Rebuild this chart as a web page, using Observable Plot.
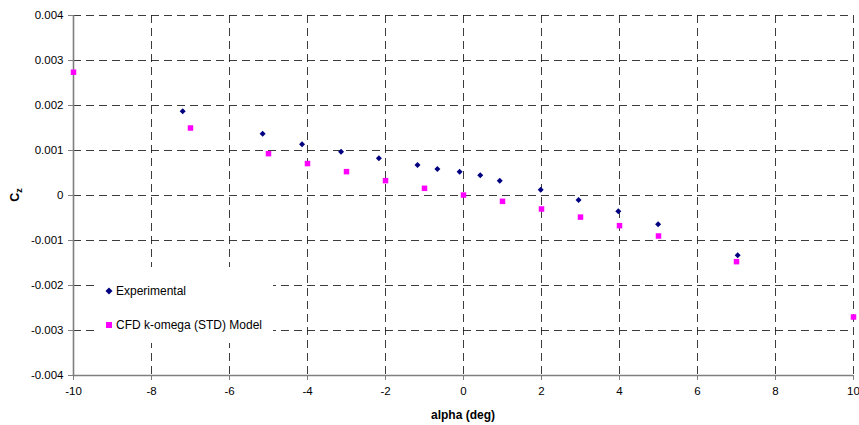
<!DOCTYPE html>
<html>
<head>
<meta charset="utf-8">
<script src="https://cdn.jsdelivr.net/npm/d3@7"></script>
<script src="https://cdn.jsdelivr.net/npm/@observablehq/plot@0.6"></script>
<style>
  html, body { margin: 0; padding: 0; background: #fff; }
  #wrap { position: relative; width: 859px; height: 425px; font-family: "Liberation Sans", Arial, sans-serif; }
  #legend { position: absolute; left: 97px; top: 267px; width: 176px; height: 76px; background: #fff; font-size: 12px; color: #000; }
  #legend .item { position: absolute; left: 8px; display: flex; align-items: center; white-space: nowrap; }
  #legend svg { margin-right: 3px; }
</style>
</head>
<body>
<div id="wrap"></div>
<script>
// Data
const expAlpha = [-7.2, -5.15, -4.14, -3.14, -2.17, -1.18, -0.67, -0.1, 0.43, 0.93, 1.98, 2.95, 3.97, 4.99, 7.03];
const expCz    = [0.00187, 0.00137, 0.00114, 0.00097, 0.00083, 0.00068, 0.00059, 0.00053, 0.00045, 0.00033, 0.00013, -0.0001, -0.00035, -0.00064, -0.00133];
const cfdAlpha = [-10, -7, -5, -4, -3, -2, -1, 0, 1, 2, 3, 4, 5, 7, 10];
const cfdCz    = [0.00274, 0.0015, 0.00093, 0.00071, 0.00053, 0.00033, 0.00016, 0.00001, -0.00013, -0.0003, -0.00048, -0.00067, -0.0009, -0.00147, -0.0027];
const xTicks = [-10, -8, -6, -4, -2, 0, 2, 4, 6, 8, 10];
const yTicks = [-0.004, -0.003, -0.002, -0.001, 0, 0.001, 0.002, 0.003, 0.004];
const seriesNames = ["Experimental", "CFD k-omega (STD) Model"];
const seriesColors = ["#000080", "#ff00ff"];

const expData = expAlpha.map((a, i) => ({alpha: a, cz: expCz[i]}));
const cfdData = cfdAlpha.map((a, i) => ({alpha: a, cz: cfdCz[i]}));

const fmtX = d => String(d);
const fmtY = d => d === 0 ? "0" : d.toFixed(3);
const gridStyle = {stroke: "#1a1a1a", strokeOpacity: 0.85, strokeWidth: 1, strokeDasharray: "8,5"};

const chart = Plot.plot({
  width: 859,
  height: 425,
  marginLeft: 73,
  marginRight: 6,
  marginTop: 15,
  marginBottom: 50,
  style: {fontFamily: "'Liberation Sans', Arial, sans-serif", fontSize: "11.5px", color: "#000", background: "#fff"},
  x: {domain: [-10, 10], label: null},
  y: {domain: [-0.004, 0.004], label: null},
  marks: [
    Plot.gridX(xTicks.slice(1), gridStyle),
    Plot.gridY(yTicks.slice(1), gridStyle),
    Plot.axisX(xTicks, {tickFormat: fmtX, tickSize: 5, tickPadding: 6, stroke: "#7f7f7f", fill: "#000", label: null}),
    Plot.axisY(yTicks, {tickFormat: fmtY, tickSize: 5, tickPadding: 5, stroke: "#7f7f7f", fill: "#000", label: null}),
    Plot.ruleX([xTicks[0]], {stroke: "#7f7f7f", strokeWidth: 1.6}),
    Plot.ruleY([yTicks[0]], {stroke: "#7f7f7f", strokeWidth: 1.6}),
    Plot.dot(expData, {x: "alpha", y: "cz", symbol: "diamond2", r: 2.7, fill: seriesColors[0], stroke: "none"}),
    Plot.dot(cfdData, {x: "alpha", y: "cz", symbol: "square", r: 3.1, fill: seriesColors[1], stroke: "none"})
  ]
});

const wrap = document.getElementById("wrap");
wrap.appendChild(chart);

const svg = d3.select(chart);
// y-axis title Cz with subscript
const yt = svg.append("text")
  .attr("transform", "translate(19,195) rotate(-90)")
  .attr("text-anchor", "middle")
  .attr("font-weight", "bold")
  .attr("font-size", "12.5px")
  .attr("fill", "#000");
yt.append("tspan").text("C");
yt.append("tspan").attr("font-size", "9px").attr("dy", "3").text("z");
// x-axis title
svg.append("text")
  .attr("x", 463).attr("y", 419)
  .attr("text-anchor", "middle")
  .attr("font-weight", "bold")
  .attr("font-size", "12px")
  .attr("fill", "#000")
  .text("alpha (deg)");

// Legend overlay
const legend = document.createElement("div");
legend.id = "legend";
const sym = [
  '<svg width="8" height="8"><path d="M4,0.5L7.5,4L4,7.5L0.5,4Z" fill="' + seriesColors[0] + '"/></svg>',
  '<svg width="8" height="8"><rect x="1" y="1" width="6" height="6" fill="' + seriesColors[1] + '"/></svg>'
];
const tops = [17, 51];
seriesNames.forEach((n, i) => {
  const it = document.createElement("div");
  it.className = "item";
  it.style.top = tops[i] + "px";
  it.innerHTML = sym[i] + "<span>" + n + "</span>";
  legend.appendChild(it);
});
wrap.appendChild(legend);
</script>
</body>
</html>
